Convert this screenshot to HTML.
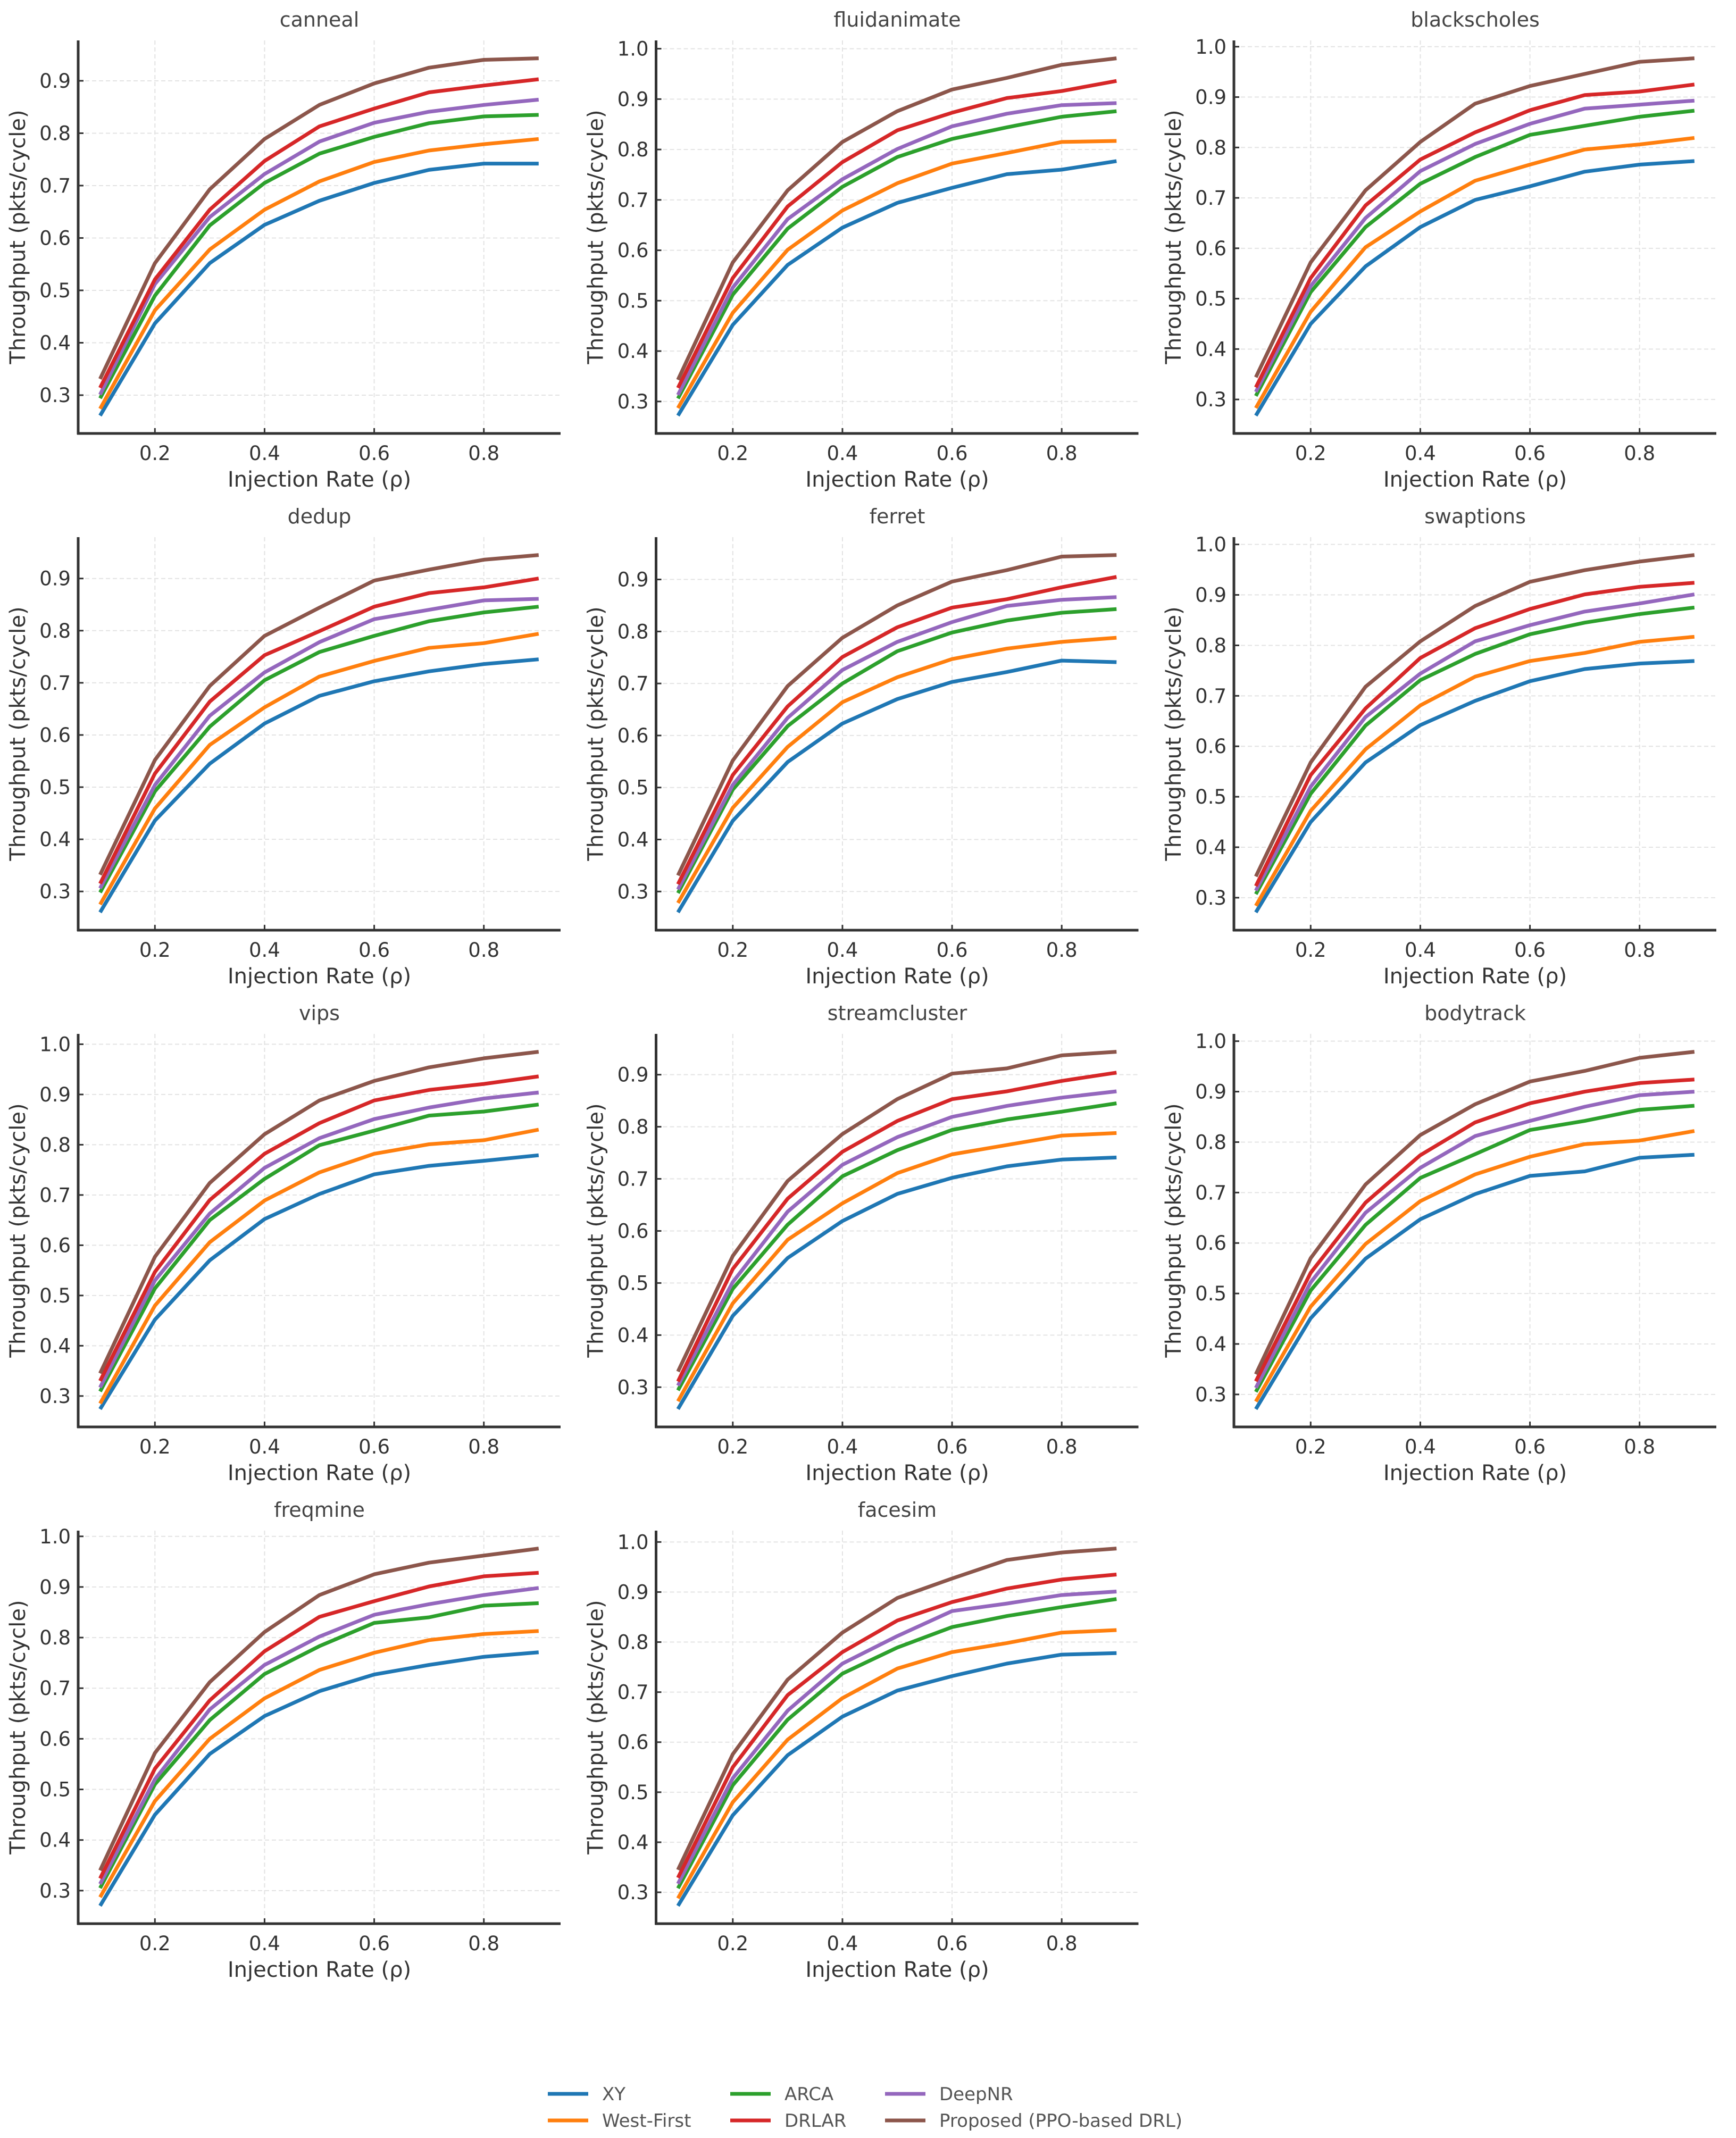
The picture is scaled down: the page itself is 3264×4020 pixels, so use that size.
<!DOCTYPE html>
<html><head><meta charset="utf-8"><style>
html,body{margin:0;padding:0;background:#fff;}
svg{display:block;font-family:"DejaVu Sans","Liberation Sans",sans-serif;}
</style></head><body>
<svg id="fig" width="3264" height="4020" viewBox="0 0 3264 4020" xmlns="http://www.w3.org/2000/svg"></svg>
<script>
const xValues = [0.1,0.2,0.3,0.4,0.5,0.6,0.7,0.8,0.9];
const xTicks = [0.2,0.4,0.6,0.8];
const xTickLabels = ["0.2","0.4","0.6","0.8"];
const seriesNames = ["XY","West-First","ARCA","DeepNR","DRLAR","Proposed (PPO-based DRL)"];
const seriesColors = ["#1f77b4","#ff7f0e","#2ca02c","#9467bd","#d62728","#8c564b"];
const benchmarks = ["canneal","fluidanimate","blackscholes","dedup","ferret","swaptions","vips","streamcluster","bodytrack","freqmine","facesim"];

const canneal = [
 [0.261,0.437,0.552,0.625,0.671,0.705,0.730,0.742,0.742],
 [0.274,0.462,0.578,0.654,0.708,0.745,0.767,0.779,0.789],
 [0.294,0.490,0.624,0.705,0.761,0.793,0.819,0.832,0.835],
 [0.301,0.512,0.640,0.722,0.784,0.820,0.841,0.854,0.864],
 [0.314,0.521,0.654,0.747,0.813,0.847,0.878,0.891,0.903],
 [0.331,0.552,0.693,0.789,0.854,0.895,0.925,0.940,0.943]];
const fluidanimate = [
 [0.272,0.452,0.571,0.645,0.694,0.724,0.751,0.760,0.777],
 [0.287,0.476,0.601,0.679,0.733,0.772,0.793,0.815,0.817],
 [0.306,0.512,0.643,0.726,0.785,0.821,0.844,0.865,0.876],
 [0.313,0.526,0.662,0.741,0.801,0.846,0.871,0.888,0.892],
 [0.327,0.545,0.687,0.775,0.838,0.873,0.902,0.916,0.936],
 [0.343,0.576,0.719,0.815,0.876,0.919,0.942,0.968,0.981]];
const blackscholes = [
 [0.268,0.450,0.564,0.642,0.696,0.723,0.752,0.766,0.773],
 [0.283,0.474,0.602,0.673,0.734,0.766,0.796,0.806,0.819],
 [0.307,0.513,0.642,0.728,0.781,0.825,0.843,0.861,0.873],
 [0.315,0.525,0.660,0.753,0.807,0.847,0.877,0.885,0.893],
 [0.324,0.541,0.685,0.776,0.830,0.874,0.904,0.911,0.925],
 [0.344,0.572,0.715,0.811,0.887,0.922,0.946,0.970,0.977]];
const dedup = [
 [0.260,0.436,0.545,0.622,0.675,0.703,0.722,0.736,0.745],
 [0.275,0.459,0.581,0.653,0.712,0.742,0.767,0.776,0.794],
 [0.298,0.492,0.616,0.705,0.759,0.790,0.818,0.835,0.846],
 [0.306,0.504,0.637,0.720,0.778,0.822,0.840,0.858,0.861],
 [0.315,0.526,0.664,0.753,0.799,0.846,0.872,0.883,0.900],
 [0.332,0.552,0.694,0.790,0.844,0.896,0.917,0.936,0.945]];
const ferret = [
 [0.260,0.436,0.549,0.623,0.670,0.703,0.722,0.744,0.741],
 [0.278,0.461,0.578,0.664,0.712,0.747,0.767,0.780,0.788],
 [0.297,0.496,0.618,0.700,0.762,0.798,0.821,0.836,0.843],
 [0.304,0.505,0.634,0.726,0.780,0.818,0.849,0.861,0.866],
 [0.314,0.524,0.656,0.751,0.808,0.846,0.862,0.885,0.905],
 [0.331,0.552,0.695,0.788,0.850,0.896,0.918,0.944,0.947]];
const swaptions = [
 [0.271,0.450,0.568,0.642,0.690,0.729,0.753,0.764,0.769],
 [0.284,0.472,0.594,0.681,0.738,0.769,0.785,0.807,0.817],
 [0.307,0.506,0.641,0.731,0.783,0.822,0.845,0.862,0.875],
 [0.314,0.520,0.658,0.744,0.808,0.840,0.867,0.883,0.901],
 [0.323,0.543,0.675,0.775,0.834,0.872,0.901,0.916,0.924],
 [0.342,0.568,0.718,0.808,0.878,0.926,0.949,0.966,0.979]];
const vips = [
 [0.274,0.452,0.570,0.652,0.702,0.741,0.758,0.768,0.779],
 [0.285,0.480,0.606,0.689,0.745,0.782,0.801,0.809,0.830],
 [0.309,0.514,0.650,0.732,0.799,0.828,0.858,0.866,0.880],
 [0.317,0.530,0.663,0.754,0.813,0.851,0.874,0.892,0.904],
 [0.330,0.547,0.690,0.782,0.843,0.888,0.909,0.921,0.936],
 [0.345,0.577,0.724,0.821,0.888,0.927,0.954,0.972,0.985]];
const streamcluster = [
 [0.258,0.437,0.548,0.619,0.671,0.702,0.724,0.737,0.741],
 [0.273,0.461,0.583,0.653,0.711,0.747,0.765,0.783,0.788],
 [0.294,0.489,0.612,0.705,0.755,0.794,0.814,0.829,0.845],
 [0.303,0.502,0.637,0.727,0.780,0.819,0.840,0.856,0.868],
 [0.311,0.527,0.662,0.752,0.811,0.853,0.868,0.888,0.904],
 [0.330,0.552,0.696,0.786,0.853,0.902,0.912,0.937,0.944]];
const bodytrack = [
 [0.271,0.451,0.569,0.647,0.697,0.733,0.742,0.769,0.775],
 [0.286,0.474,0.598,0.683,0.736,0.771,0.796,0.803,0.822],
 [0.305,0.506,0.636,0.729,0.776,0.824,0.842,0.864,0.872],
 [0.313,0.522,0.660,0.749,0.812,0.842,0.870,0.893,0.900],
 [0.326,0.541,0.680,0.774,0.839,0.877,0.900,0.917,0.924],
 [0.340,0.570,0.716,0.814,0.875,0.920,0.941,0.967,0.979]];
const freqmine = [
 [0.270,0.450,0.570,0.645,0.694,0.727,0.746,0.762,0.771],
 [0.287,0.477,0.600,0.680,0.736,0.770,0.795,0.807,0.813],
 [0.305,0.510,0.637,0.728,0.783,0.829,0.840,0.863,0.868],
 [0.313,0.520,0.658,0.746,0.802,0.845,0.866,0.884,0.898],
 [0.324,0.541,0.676,0.773,0.841,0.872,0.901,0.921,0.928],
 [0.340,0.572,0.712,0.811,0.884,0.925,0.948,0.962,0.976]];
const facesim = [
 [0.273,0.454,0.574,0.651,0.703,0.732,0.757,0.775,0.778],
 [0.288,0.480,0.605,0.688,0.747,0.780,0.798,0.819,0.824],
 [0.308,0.514,0.645,0.737,0.789,0.830,0.852,0.870,0.886],
 [0.317,0.528,0.663,0.757,0.812,0.862,0.877,0.894,0.901],
 [0.329,0.550,0.694,0.780,0.843,0.880,0.907,0.925,0.935],
 [0.345,0.576,0.725,0.819,0.888,0.927,0.964,0.979,0.987]];
const panelData = [canneal,fluidanimate,blackscholes,dedup,ferret,swaptions,vips,streamcluster,bodytrack,freqmine,facesim];
const yTickValues = [0.3,0.4,0.5,0.6,0.7,0.8,0.9,1.0];
const yTickLabels = ["0.3","0.4","0.5","0.6","0.7","0.8","0.9","1.0"];
const legendOrder = [0,1,2,4,3,5];

const NS = "http://www.w3.org/2000/svg";
const svg = document.getElementById("fig");
function mk(tag, attrs, parent){
  const e = document.createElementNS(NS, tag);
  for (const k in attrs) e.setAttribute(k, attrs[k]);
  (parent||svg).appendChild(e);
  return e;
}
const AX_W = 907, AX_H = 739;
benchmarks.forEach((name, i) => {
  const r = Math.floor(i/3), c = i%3;
  const L = 147 + c*1086.5, T = 76 + r*934;
  const data = panelData[i];
  let mn = Infinity, mx = -Infinity;
  data.forEach(s => s.forEach(v => { mn = Math.min(mn,v); mx = Math.max(mx,v); }));
  const pad = (mx-mn)*0.05, y0 = mn-pad, y1 = mx+pad;
  const xS = v => L + (v-0.06)/0.88*AX_W;
  const yS = v => T + AX_H - (v-y0)/(y1-y0)*AX_H;
  const g = mk("g", {});
  
  
  xTicks.forEach((t, k) => {
    const gl = mk("line", {x1:xS(t),x2:xS(t),y1:T,y2:T+AX_H,stroke:"#e3e3e3","stroke-width":2,"stroke-dasharray":"8,5"}, g);
    
    
    const tm = mk("line", {x1:xS(t),x2:xS(t),y1:T+AX_H,y2:T+AX_H-10,stroke:"#333","stroke-width":3}, g);
    
    
    const tl = mk("text", {x:xS(t),y:T+AX_H+50,"text-anchor":"middle","font-size":37,fill:"#333"}, g);
    tl.textContent = xTickLabels[k];
    
    
  });
  yTickValues.forEach((t, k) => {
    if (t < y0 || t > y1) return;
    const gl = mk("line", {x1:L,x2:L+AX_W,y1:yS(t),y2:yS(t),stroke:"#e3e3e3","stroke-width":2,"stroke-dasharray":"8,5"}, g);
    
    
    const tm = mk("line", {x1:L,x2:L+10,y1:yS(t),y2:yS(t),stroke:"#333","stroke-width":3}, g);
    
    
    const tl = mk("text", {x:L-14,y:yS(t)+13,"text-anchor":"end","font-size":37,fill:"#333"}, g);
    tl.textContent = yTickLabels[k];
    
    
  });
  data.forEach((s, k) => {
    const pts = s.map((v, j) => xS(xValues[j]).toFixed(1) + "," + yS(v).toFixed(1)).join(" ");
    const pl = mk("polyline", {points:pts,fill:"none",stroke:seriesColors[k],"stroke-width":7,"stroke-linejoin":"round"}, g);
    
    
  });
  const sp1 = mk("line", {x1:L,x2:L,y1:T,y2:T+AX_H+2,stroke:"#333","stroke-width":5}, g);
  
  
  const sp2 = mk("line", {x1:L-2,x2:L+AX_W,y1:T+AX_H,y2:T+AX_H,stroke:"#333","stroke-width":5}, g);
  
  
  const ti = mk("text", {x:L+AX_W/2,y:T-26,"text-anchor":"middle","font-size":38,fill:"#444"}, g);
  ti.textContent = name;
  
  
  const xl = mk("text", {x:L+AX_W/2,y:T+AX_H+100,"text-anchor":"middle","font-size":40,fill:"#333"}, g);
  xl.textContent = "Injection Rate (ρ)";
  
  
  const yl = mk("text", {x:0,y:0,"text-anchor":"middle","font-size":40,fill:"#333",transform:`translate(${L-100},${T+AX_H/2}) rotate(-90)`}, g);
  yl.textContent = "Throughput (pkts/cycle)";
  
  
});
const legX = [1030, 1030, 1373, 1373, 1664, 1664];
const legY = [3937, 3987, 3937, 3987, 3937, 3987];
const lg = mk("g", {});


legendOrder.forEach((k, p) => {
  const ln = mk("line", {x1:legX[p],x2:legX[p]+76,y1:legY[p],y2:legY[p],stroke:seriesColors[k],"stroke-width":7}, lg);
  
  
  const tx = mk("text", {x:legX[p]+102,y:legY[p]+12,"font-size":34,fill:"#555"}, lg);
  tx.textContent = seriesNames[k];
  
  
});
</script>
</body></html>
